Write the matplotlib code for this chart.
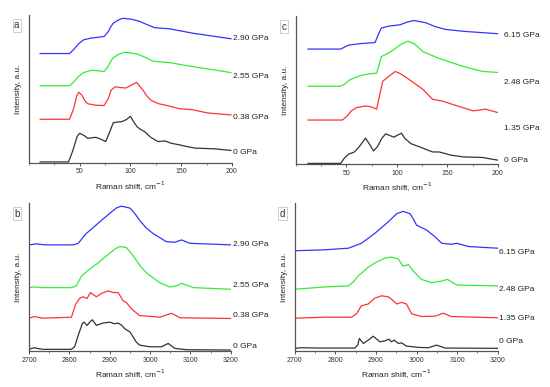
import matplotlib
matplotlib.use('Agg')
import matplotlib.pyplot as plt
import matplotlib.transforms as mtransforms

plt.rcParams['font.family'] = ['Liberation Sans', 'DejaVu Sans']

# ---- Panel a: low-frequency region, pressures 0 - 2.90 GPa ----
a_0_x = [11, 39, 43, 47.5, 50, 54, 58, 62, 66, 71, 75.5, 79, 83, 87, 91, 96, 100, 103, 106.5, 110, 114, 120, 127, 134, 140, 148.5, 156, 164, 183, 199]
a_0_y = [1, 1, 12, 27, 30, 28, 25, 25.5, 26, 24, 21.7, 30, 40.7, 41.5, 41.7, 44, 47.3, 42, 36.7, 34, 31.7, 26, 21.7, 22.3, 20, 18.3, 16.5, 15, 14.3, 12.7]
a_038_x = [11, 40, 44, 47, 49, 52, 55, 58, 66, 74, 78, 81, 85, 90, 95.6, 101, 106, 109, 112.7, 116, 120.5, 128, 136, 148.5, 161, 176, 199]
a_038_y = [44.3, 44.3, 55, 68, 71.7, 69, 63, 60, 58.5, 58.3, 65, 74, 77.3, 76.5, 76, 79, 81.7, 78, 73.3, 68, 63.3, 60, 58.3, 55, 54, 50.7, 48.7]
a_255_x = [11, 40, 44, 49, 54, 61.5, 68, 74, 78, 80.5, 83, 88, 94, 101, 108, 115, 122, 139, 158, 199]
a_255_y = [78.3, 78.3, 82, 88, 91.7, 94, 93.5, 92.7, 98, 103, 106.7, 110, 112.3, 111.5, 110, 107, 103.3, 101.7, 98.3, 91.7]
a_290_x = [11, 40, 44, 49, 54, 61.5, 68, 74, 78, 80.5, 83, 88, 92.5, 100, 108, 116, 123.6, 139, 161, 199]
a_290_y = [111, 111, 115, 121, 125, 126.7, 127.5, 128.3, 133, 138, 141.7, 145, 146.7, 146, 144, 140.5, 137.3, 136, 131.7, 126]

# ---- Panel c: low-frequency region, pressures 0 - 6.15 GPa ----
c_0_x = [12, 44.4, 48, 52, 58, 63, 69, 73, 77, 81, 85, 89, 93, 97, 101, 104.6, 108, 114, 123, 135.5, 142, 154, 166, 185, 200]
c_0_y = [0.7, 0.7, 6, 10, 12.3, 18, 26.3, 20, 13.3, 18, 26, 30.7, 29, 27.3, 29.5, 31.3, 26, 20.7, 17.3, 12.3, 12.3, 9, 7.3, 6.7, 4]
c_135_x = [12, 46, 50, 55, 60, 69, 75, 80, 83, 86, 92, 98.5, 103, 107.7, 117, 126, 135.5, 144.8, 160, 175.6, 188, 200]
c_135_y = [44.7, 44.7, 48, 54, 57.3, 59, 58, 55.7, 70, 84, 89, 94, 92, 89, 82.3, 75.7, 65.7, 64, 59, 54, 55.7, 52.3]
c_248_x = [12, 44.4, 48, 53.7, 64.5, 72, 80, 82.5, 84.6, 89, 94, 98.5, 104, 110.8, 117, 126, 141.7, 166, 185, 200]
c_248_y = [79, 79, 81, 85.7, 90, 91.5, 92.3, 101, 109, 111.3, 114, 117.3, 121.5, 124.7, 122.3, 114, 107.3, 99, 94, 93]
c_615_x = [12, 44.4, 52, 64.5, 78.4, 81.5, 84.6, 92, 103, 110, 117, 129, 138, 148, 166, 200]
c_615_y = [116.7, 116.7, 120.7, 122.3, 123.3, 131, 138, 140, 141.3, 144, 145.7, 143.3, 139.5, 136.7, 134.7, 132.3]

# ---- Panel b: C-H stretching region, pressures 0 - 2.90 GPa ----
b_0_x = [2700, 2712, 2734, 2805, 2813, 2822, 2832, 2836, 2844, 2850, 2857, 2867, 2883, 2900, 2912, 2921, 2930, 2937, 2950, 2958, 2966, 2974, 2999, 3028, 3045, 3061, 3090, 3200]
b_0_y = [1.7, 3.3, 1.7, 1.7, 4.3, 16, 27.7, 29.3, 26, 29, 31.7, 26, 28.3, 29.3, 27.7, 28.3, 26, 22.7, 19.3, 14.3, 9, 6, 4.3, 4.3, 7.7, 2.7, 1.3, 1]
b_038_x = [2700, 2714, 2734, 2805, 2816, 2826, 2834, 2844, 2852, 2867, 2879, 2896, 2908, 2921, 2933, 2941, 2954, 2974, 3024, 3053, 3074, 3200]
b_038_y = [33.3, 35, 33.3, 34.3, 47.7, 53.7, 55, 53.3, 59.3, 55, 58.3, 61, 59.3, 59.3, 51, 49.3, 42.7, 36, 34.3, 38.3, 33.7, 33]
b_255_x = [2700, 2714, 2734, 2805, 2817, 2830, 2846, 2871, 2900, 2915, 2925, 2941, 2950, 2962, 2976, 2991, 3024, 3049, 3065, 3078, 3107, 3200]
b_255_y = [64.3, 65, 64.3, 64.3, 66, 76, 81.7, 89.3, 99.3, 104, 106, 105, 101, 94.3, 86, 79.3, 69.3, 65, 66, 68.7, 64.3, 62.7]
b_290_x = [2700, 2718, 2740, 2810, 2822, 2842, 2855, 2875, 2904, 2918, 2929, 2950, 2962, 2974, 2990, 3007, 3040, 3061, 3078, 3098, 3200]
b_290_y = [107.7, 108.7, 107.7, 107.7, 109.3, 119.3, 123.7, 131, 141, 145.5, 147, 145, 139.5, 132.7, 125, 119.3, 111, 110.3, 112.7, 109.3, 107.7]

# ---- Panel d: C-H stretching region, pressures 0 - 6.15 GPa ----
d_0_x = [2700, 2716, 2760, 2848, 2855, 2859, 2869, 2881, 2893, 2910, 2922, 2932, 2938, 2945, 2955, 2963, 2975, 3004, 3029, 3049, 3070, 3200]
d_0_y = [2.7, 3.3, 3, 3, 6, 12.7, 7.7, 11, 15, 9.3, 10.3, 12, 9.3, 11, 7.7, 8.3, 5, 3.7, 3.3, 6, 3, 2.7]
d_135_x = [2700, 2774, 2840, 2852, 2864, 2881, 2897, 2914, 2930, 2938, 2951, 2963, 2975, 2988, 3012, 3045, 3066, 3086, 3200]
d_135_y = [33.3, 34.3, 34.3, 37.7, 46, 47.7, 53.7, 56, 55, 52.7, 47.7, 49.3, 47.7, 37.7, 35, 35.3, 38.3, 35, 33.7]
d_248_x = [2700, 2774, 2832, 2844, 2856, 2881, 2897, 2922, 2938, 2955, 2967, 2980, 2992, 3012, 3037, 3062, 3076, 3099, 3200]
d_248_y = [62.7, 65, 66, 70, 76, 85, 89.3, 94.3, 95.3, 93.3, 86, 87.7, 81, 72.7, 69.3, 71, 72.7, 67, 66]
d_615_x = [2700, 2774, 2832, 2864, 2897, 2930, 2951, 2967, 2984, 2992, 3000, 3025, 3045, 3062, 3086, 3099, 3128, 3200]
d_615_y = [101.7, 102.7, 104.3, 109.3, 119.3, 131, 139.3, 141.7, 139.3, 134, 127.7, 122.7, 116, 109.3, 108.3, 109.3, 106, 104.3]

labels_ab = ['0 GPa', '0.38 GPa', '2.55 GPa', '2.90 GPa']
labels_cd = ['0 GPa', '1.35 GPa', '2.48 GPa', '6.15 GPa']
colores = ['#333333', '#ff3333', '#33ee33', '#3333ff']

paneles = [
    ('a', [0.0527, 0.579, 0.369, 0.382], (10, 200), [50, 100, 150, 200], 25,
     [(a_0_x, a_0_y), (a_038_x, a_038_y), (a_255_x, a_255_y), (a_290_x, a_290_y)],
     labels_ab, [10.7, 46, 87.3, 126.7], 1.006),
    ('c', [0.538, 0.576, 0.367, 0.382], (12, 200), [50, 100, 150, 200], 25,
     [(c_0_x, c_0_y), (c_135_x, c_135_y), (c_248_x, c_248_y), (c_615_x, c_615_y)],
     labels_cd, [4, 36.3, 83, 130], 1.03),
    ('b', [0.0527, 0.093, 0.367, 0.382], (2700, 3200), [2700, 2800, 2900, 3000, 3100, 3200], 50,
     [(b_0_x, b_0_y), (b_038_x, b_038_y), (b_255_x, b_255_y), (b_290_x, b_290_y)],
     labels_ab, [4.3, 36, 66.7, 108.3], 1.01),
    ('d', [0.536, 0.093, 0.369, 0.382], (2700, 3200), [2700, 2800, 2900, 3000, 3100, 3200], 50,
     [(d_0_x, d_0_y), (d_135_x, d_135_y), (d_248_x, d_248_y), (d_615_x, d_615_y)],
     labels_cd, [10, 32.7, 62, 100.3], 1.008),
]

fig = plt.figure(figsize=(5.5, 3.87), dpi=100)

for letra, pos, xlim, ticks, minor, curvas, etiquetas, ylab, xlab in paneles:
    ax = fig.add_axes(pos)
    for (x, y), c in zip(curvas, colores):
        ax.plot(x, y, color=c, lw=0.9, solid_joinstyle='round')
    ax.set_xlim(*xlim)
    ax.set_ylim(0, 150)
    ax.set_xticks(ticks)
    ax.set_xticks(list(range(xlim[0] - xlim[0] % minor, xlim[1] + 1, minor)), minor=True)
    ax.set_yticks([])
    ax.tick_params(axis='x', labelsize=5, length=2, width=0.6, pad=2, colors='#333333')
    ax.tick_params(axis='x', which='minor', length=1.2, width=0.5, colors='#555555')
    for s in ['top', 'right']:
        ax.spines[s].set_visible(False)
    for s in ['left', 'bottom']:
        ax.spines[s].set_color('#555555')
        ax.spines[s].set_linewidth(0.9)
    ax.set_xlabel('Raman shift, cm$^{-1}$', fontsize=6, labelpad=3, color='#222222')
    ax.set_ylabel('Intensity, a.u.', fontsize=6, labelpad=5, color='#222222')
    trans = mtransforms.blended_transform_factory(ax.transAxes, ax.transData)
    for et, yy in zip(etiquetas, ylab):
        ax.text(xlab, yy, et, transform=trans, fontsize=6, va='center', ha='left',
                color='#222222', clip_on=False)
    ax.text(-0.06, 0.93, letra, transform=ax.transAxes, fontsize=7, ha='center', va='center',
            color='#333333',
            bbox=dict(boxstyle='square,pad=0.15', fc='white', ec='#bbbbbb', lw=0.5))

plt.savefig('out.png', dpi=100)
